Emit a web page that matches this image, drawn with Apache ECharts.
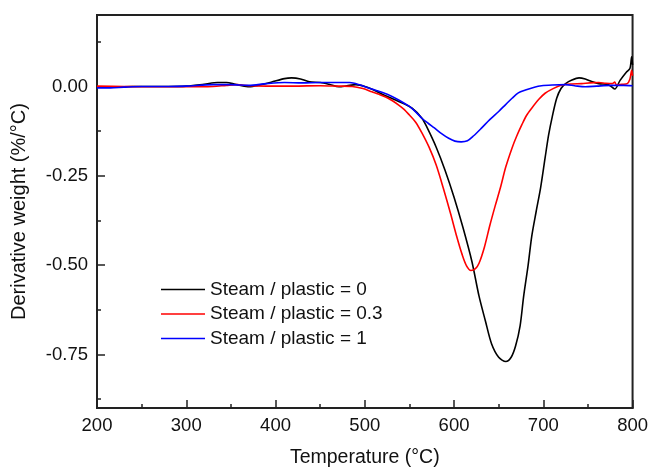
<!DOCTYPE html>
<html>
<head>
<meta charset="utf-8">
<script src="https://cdn.jsdelivr.net/npm/echarts@6/dist/echarts.min.js"></script>
<style>
  html, body { margin: 0; padding: 0; background: #fff; }
  #chart { width: 651px; height: 473px; }
</style>
</head>
<body>
<div id="chart"></div>
<script>
// Steam / plastic = 0
var tempBlack = [200, 220, 240, 260, 280, 300, 320, 335, 345, 355, 365, 372, 380, 395, 410, 418, 428, 438, 450, 460, 471, 480, 490, 500, 510, 524, 538, 553, 564, 570, 580, 590, 600, 610, 620, 628, 635, 642, 650, 658, 664, 669, 674, 678, 683, 687, 692, 697, 702, 706, 710, 715, 720, 725, 732, 740, 747, 753, 762, 773, 780, 786, 793, 797, 799, 800];
var dtgBlack = [-0.002, -0.002, 0, 0, 0, 0.001, 0.006, 0.011, 0.011, 0.006, 0.001, -0.001, 0.003, 0.012, 0.022, 0.024, 0.021, 0.013, 0.011, 0.006, -0.001, 0.002, 0.005, 0.0, -0.01, -0.027, -0.042, -0.061, -0.089, -0.116, -0.17, -0.235, -0.31, -0.395, -0.49, -0.587, -0.655, -0.72, -0.758, -0.77, -0.758, -0.726, -0.67, -0.587, -0.5, -0.42, -0.35, -0.283, -0.2, -0.135, -0.085, -0.033, -0.005, 0.008, 0.018, 0.024, 0.021, 0.015, 0.008, 0.005, -0.007, 0.017, 0.04, 0.05, 0.083, 0.06];

// Steam / plastic = 0.3
var tempRed = [200, 230, 260, 300, 330, 345, 357, 370, 390, 420, 450, 470, 486, 498, 508, 516, 524, 531, 538, 544, 550, 557, 564, 572, 580, 588, 596, 603, 609, 614, 619, 624, 628, 634, 640, 646, 652, 658, 665, 670, 676, 681, 687, 695, 702, 711, 721, 732, 743, 752, 762, 770, 777, 780, 782, 788, 794, 797, 799, 800];
var dtgRed = [0.001, 0, -0.001, -0.001, 0, 0.003, 0.005, 0.002, 0.001, 0.001, 0.002, 0.001, 0, -0.006, -0.015, -0.022, -0.03, -0.04, -0.052, -0.064, -0.08, -0.1, -0.13, -0.17, -0.22, -0.285, -0.355, -0.42, -0.47, -0.502, -0.515, -0.51, -0.495, -0.45, -0.39, -0.335, -0.283, -0.225, -0.172, -0.14, -0.107, -0.082, -0.061, -0.036, -0.019, -0.006, 0.004, 0.007, 0.008, 0.01, 0.011, 0.009, 0.008, 0.012, 0.004, 0.006, 0.008, 0.02, 0.045, 0.03];

// Steam / plastic = 1
var tempBlue = [200, 215, 230, 250, 280, 300, 330, 350, 370, 390, 410, 430, 450, 470, 483, 495, 505, 515, 527, 538, 550, 557, 564, 571, 578, 586, 594, 601, 608, 615, 622, 631, 640, 650, 658, 665, 672, 680, 690, 698, 710, 725, 735, 747, 760, 775, 790, 800];
var dtgBlue = [-0.004, -0.004, -0.002, 0, 0, 0.001, 0.005, 0.005, 0.003, 0.008, 0.011, 0.01, 0.011, 0.011, 0.011, 0.004, -0.005, -0.013, -0.024, -0.038, -0.056, -0.071, -0.089, -0.103, -0.116, -0.132, -0.145, -0.153, -0.155, -0.152, -0.138, -0.116, -0.093, -0.07, -0.05, -0.033, -0.018, -0.01, -0.002, 0.002, 0.004, 0.005, 0.002, -0.001, 0.001, 0.003, 0.003, 0.002];

var seriesNames = ['Steam / plastic = 0', 'Steam / plastic = 0.3', 'Steam / plastic = 1'];
var yMajor = [-0.75, -0.5, -0.25, 0];
var yMinor = [-0.875, -0.625, -0.375, -0.125, 0.125];

function pairs(xs, ys) {
  return xs.map(function (x, i) { return [x, ys[i]]; });
}

var font = 'Liberation Sans, Arial, Helvetica, sans-serif';
var ink = '#111';

var chart = echarts.init(document.getElementById('chart'));
chart.setOption({
  animation: false,
  backgroundColor: '#fff',
  grid: {
    left: 97, right: 17, top: 15, bottom: 60,
    show: true, borderColor: '#222', borderWidth: 2, backgroundColor: 'transparent'
  },
  legend: {
    orient: 'vertical',
    left: 156, top: 275,
    icon: 'rect',
    itemWidth: 44, itemHeight: 1.6, itemGap: 5.5,
    textStyle: { fontFamily: font, fontSize: 19, color: ink },
    data: seriesNames
  },
  xAxis: {
    type: 'value',
    min: 200, max: 800, interval: 100,
    name: 'Temperature (\u00B0C)',
    nameLocation: 'middle', nameGap: 40,
    nameTextStyle: { fontFamily: font, fontSize: 19.5, color: ink },
    axisLine: { onZero: false, lineStyle: { color: '#222', width: 2 } },
    axisTick: { inside: true, length: 8, lineStyle: { color: '#222', width: 1.5 } },
    minorTick: { show: true, splitNumber: 2, length: 4, lineStyle: { color: '#222', width: 1.5 } },
    axisLabel: { fontFamily: font, fontSize: 18.5, color: ink, margin: 8 },
    splitLine: { show: false }
  },
  yAxis: [{
    type: 'value',
    min: -0.9, max: 0.2,
    name: 'Derivative weight (%/\u00B0C)',
    nameLocation: 'middle', nameGap: 68,
    nameTextStyle: { fontFamily: font, fontSize: 20, color: ink },
    axisLine: { lineStyle: { color: '#222', width: 2 } },
    axisTick: { inside: true, length: 8, customValues: yMajor, lineStyle: { color: '#222', width: 1.5 } },
    axisLabel: {
      customValues: yMajor, fontFamily: font, fontSize: 18.5, color: ink, margin: 9,
      formatter: function (v) { return v.toFixed(2); }
    },
    splitLine: { show: false }
  }, {
    type: 'value',
    position: 'left',
    min: -0.9, max: 0.2,
    axisLine: { show: false },
    axisTick: { inside: true, length: 4, customValues: yMinor, lineStyle: { color: '#222', width: 1.5 } },
    axisLabel: { show: false },
    splitLine: { show: false }
  }],
  series: [
    { name: seriesNames[0], type: 'line', data: pairs(tempBlack, dtgBlack), smooth: 0.3, symbol: 'none', lineStyle: { color: '#000', width: 1.6 }, itemStyle: { color: '#000' } },
    { name: seriesNames[1], type: 'line', data: pairs(tempRed, dtgRed), smooth: 0.3, symbol: 'none', lineStyle: { color: '#f00', width: 1.6 }, itemStyle: { color: '#f00' } },
    { name: seriesNames[2], type: 'line', data: pairs(tempBlue, dtgBlue), smooth: 0.3, symbol: 'none', lineStyle: { color: '#00f', width: 1.6 }, itemStyle: { color: '#00f' } }
  ]
});
</script>
</body>
</html>
